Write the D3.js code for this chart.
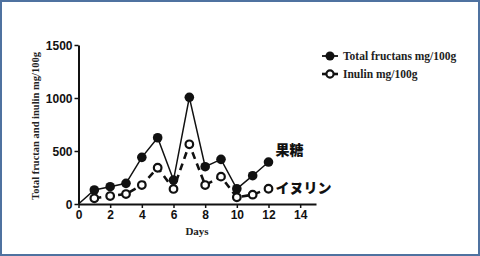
<!DOCTYPE html>
<html><head><meta charset="utf-8">
<script src="https://cdn.jsdelivr.net/npm/d3@7/dist/d3.min.js"></script>
<style>body{margin:0;background:#fff}svg{display:block}</style>
</head><body>
<svg id="c" width="480" height="256"></svg>
<script>
const days = [0,1,2,3,4,5,6,7,8,9,10,11,12];
const totalFructans = [0,132,163,195,440,625,226,1006,352,421,144,267,396];
const inulinDays = [1,2,3,4,5,6,7,8,9,10,11,12];
const inulin = [54,75,94,179,342,142,563,179,258,63,88,144];
const xTicks = [0,2,4,6,8,10,12,14];
const yTicks = [0,500,1000,1500];
const legendLabels = ["Total fructans mg/100g","Inulin mg/100g"];
const annotations = [{text:"果糖", day:12, val:396},{text:"イヌリン", day:12, val:144}];

const svg = d3.select("#c");
svg.append("rect").attr("x",1).attr("y",1).attr("width",478).attr("height",254)
  .attr("fill","#fff").attr("stroke","#4f72a0").attr("stroke-width",2);

const x = d3.scaleLinear().domain([0,15]).range([78.5,316]);
const y = d3.scaleLinear().domain([0,1500]).range([204,45]);

const ax = svg.append("g").attr("transform","translate(0,204)")
  .call(d3.axisBottom(x).tickValues(xTicks).tickFormat(d3.format("d")).tickSize(4).tickSizeOuter(0).tickPadding(2));
const ay = svg.append("g").attr("transform","translate(78.5,0)")
  .call(d3.axisLeft(y).tickValues(yTicks).tickFormat(d3.format("d")).tickSize(4).tickSizeOuter(0).tickPadding(2));
[ax,ay].forEach(g=>{
  g.select(".domain").attr("stroke","#111").attr("stroke-width",2);
  g.selectAll(".tick line").attr("stroke","#111").attr("stroke-width",1.5);
  g.selectAll(".tick text").attr("fill","#111").attr("font-family","Liberation Sans, Arial, sans-serif")
    .attr("font-weight","bold").attr("font-size","12px");
});
ay.selectAll(".tick text").attr("dy","0.35em");

svg.append("text").attr("x",197).attr("y",235).attr("text-anchor","middle")
  .attr("font-family","Liberation Serif, serif").attr("font-weight","bold").attr("font-size","11px")
  .attr("fill","#222").text("Days");
svg.append("text").attr("transform","translate(39,126) rotate(-90)").attr("text-anchor","middle")
  .attr("font-family","Liberation Serif, serif").attr("font-weight","bold").attr("font-size","10.5px")
  .attr("fill","#222").text("Total fructan and inulin mg/100g");

// Total fructans
const line = d3.line().x(d=>x(d[0])).y(d=>y(d[1]));
const tf = days.map((d,i)=>[d,totalFructans[i]]);
svg.append("path").datum(tf).attr("d",line).attr("fill","none").attr("stroke","#111").attr("stroke-width",1.5);
svg.selectAll(".tf").data(tf.slice(1)).enter().append("circle")
  .attr("cx",d=>x(d[0])).attr("cy",d=>y(d[1])).attr("r",4.8).attr("fill","#111");

// Inulin
const inu = inulinDays.map((d,i)=>[d,inulin[i]]);
svg.append("path").datum(inu).attr("d",line).attr("fill","none").attr("stroke","#111")
  .attr("stroke-width",2.6).attr("stroke-dasharray","7,5");
svg.selectAll(".in").data(inu).enter().append("circle")
  .attr("cx",d=>x(d[0])).attr("cy",d=>y(d[1])).attr("r",3.8).attr("fill","#fff")
  .attr("stroke","#111").attr("stroke-width",2.2);

// Legend
legendLabels.forEach((t,i)=>{
  const ly = 56 + i*18;
  svg.append("line").attr("x1",322).attr("x2",338).attr("y1",ly).attr("y2",ly)
    .attr("stroke","#111").attr("stroke-width",i? 2.6:1.8);
  const c = svg.append("circle").attr("cx",330).attr("cy",ly).attr("r",i?3.6:4.5);
  if(i) c.attr("fill","#fff").attr("stroke","#111").attr("stroke-width",2.2);
  else c.attr("fill","#111");
  svg.append("text").attr("x",343).attr("y",ly+4).attr("font-family","Liberation Serif, serif")
    .attr("font-weight","bold").attr("font-size","11.5px").attr("fill","#222").text(t);
});

// Annotations
svg.append("text").attr("x",x(annotations[0].day)+7).attr("y",y(annotations[0].val)-7)
  .attr("font-family","Noto Sans CJK JP, sans-serif").attr("font-weight","900").attr("font-size","14px")
  .attr("fill","#111").text(annotations[0].text);
svg.append("text").attr("x",x(annotations[1].day)+7).attr("y",y(annotations[1].val)+4)
  .attr("font-family","Noto Sans CJK JP, sans-serif").attr("font-weight","900").attr("font-size","14px")
  .attr("fill","#111").text(annotations[1].text);
</script>
</body></html>
